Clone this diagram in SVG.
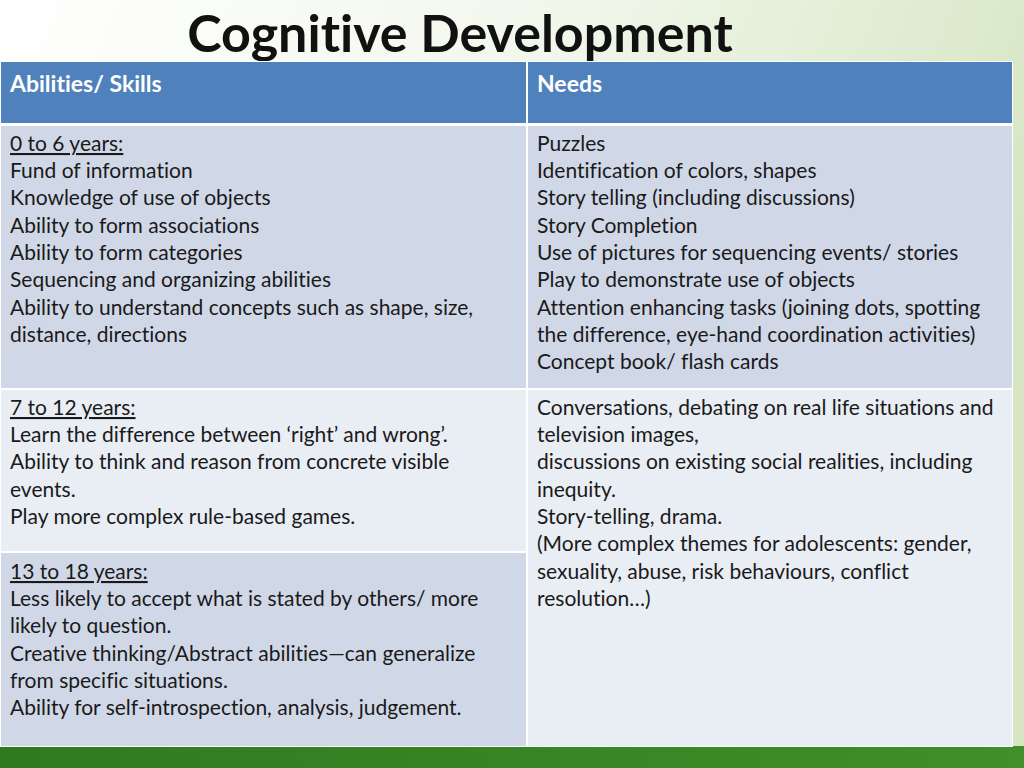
<svg xmlns="http://www.w3.org/2000/svg" width="1024" height="768" viewBox="0 0 1024 768">
<defs>
<linearGradient id="bg" x1="0" y1="0" x2="1" y2="0.3">
<stop offset="0" stop-color="#ffffff"/><stop offset="0.5" stop-color="#f2f7ec"/><stop offset="1" stop-color="#d6e6c4"/>
</linearGradient>
<linearGradient id="band" x1="0" y1="0" x2="1" y2="0">
<stop offset="0" stop-color="#2f7a1f"/><stop offset="1" stop-color="#3f8f2a"/>
</linearGradient>
<style>
text{font-variant-ligatures:none}
.t{font-family:Lato,"Open Sans",sans-serif;font-size:21px;fill:#1a1a1a}
.h{font-family:Lato,"Open Sans",sans-serif;font-size:23px;font-weight:bold;fill:#ffffff}
.u{text-decoration:underline}
</style>
</defs>
<rect width="1024" height="768" fill="url(#bg)"/>
<rect y="746" width="1024" height="22" fill="url(#band)"/>
<text x="460" y="52" text-anchor="middle" font-family="Lato,'Open Sans',sans-serif" font-size="52" font-weight="bold" fill="#111">Cognitive Development</text>
<g id="table">
<rect x="0" y="61" width="1013" height="686" fill="#ffffff"/>
<rect x="1" y="62" width="525" height="61" fill="#4f81bd"/>
<rect x="528" y="62" width="484" height="61" fill="#4f81bd"/>
<rect x="1" y="126" width="525" height="262" fill="#d0d8e8"/>
<rect x="528" y="126" width="484" height="262" fill="#d0d8e8"/>
<rect x="1" y="390" width="525" height="161" fill="#e9edf4"/>
<rect x="1" y="553" width="525" height="193" fill="#d0d8e8"/>
<rect x="528" y="390" width="484" height="356" fill="#e9edf4"/>
</g>
<g id="header">
<text class="h" x="10" y="92">Abilities/ Skills</text>
<text class="h" x="537" y="92">Needs</text>
</g>
<g id="row1-left">
<text class="t u" x="10" y="151">0 to 6 years:</text>
<text class="t" x="10" y="178">Fund of information</text>
<text class="t" x="10" y="205">Knowledge of use of objects</text>
<text class="t" x="10" y="233">Ability to form associations</text>
<text class="t" x="10" y="260">Ability to form categories</text>
<text class="t" x="10" y="287">Sequencing and organizing abilities</text>
<text class="t" x="10" y="315">Ability to understand concepts such as shape, size,</text>
<text class="t" x="10" y="342">distance, directions</text>
</g>
<g id="row1-right">
<text class="t" x="537" y="151">Puzzles</text>
<text class="t" x="537" y="178">Identification of colors, shapes</text>
<text class="t" x="537" y="205">Story telling (including discussions)</text>
<text class="t" x="537" y="233">Story Completion</text>
<text class="t" x="537" y="260">Use of pictures for sequencing events/ stories</text>
<text class="t" x="537" y="287">Play to demonstrate use of objects</text>
<text class="t" x="537" y="315">Attention enhancing tasks (joining dots, spotting</text>
<text class="t" x="537" y="342">the difference, eye-hand coordination activities)</text>
<text class="t" x="537" y="369">Concept book/ flash cards</text>
</g>
<g id="row2-left">
<text class="t u" x="10" y="415">7 to 12 years:</text>
<text class="t" x="10" y="442">Learn the difference between ‘right’ and wrong’.</text>
<text class="t" x="10" y="469">Ability to think and reason from concrete visible</text>
<text class="t" x="10" y="497">events.</text>
<text class="t" x="10" y="524">Play more complex rule-based games.</text>
</g>
<g id="row3-left">
<text class="t u" x="10" y="579">13 to 18 years:</text>
<text class="t" x="10" y="606">Less likely to accept what is stated by others/ more</text>
<text class="t" x="10" y="633">likely to question.</text>
<text class="t" x="10" y="661">Creative thinking/Abstract abilities—can generalize</text>
<text class="t" x="10" y="688">from specific situations.</text>
<text class="t" x="10" y="715">Ability for self-introspection, analysis, judgement.</text>
</g>
<g id="row23-right">
<text class="t" x="537" y="415">Conversations, debating on real life situations and</text>
<text class="t" x="537" y="442">television images,</text>
<text class="t" x="537" y="469">discussions on existing social realities, including</text>
<text class="t" x="537" y="497">inequity.</text>
<text class="t" x="537" y="524">Story-telling, drama.</text>
<text class="t" x="537" y="551">(More complex themes for adolescents: gender,</text>
<text class="t" x="537" y="579">sexuality, abuse, risk behaviours, conflict</text>
<text class="t" x="537" y="606">resolution…)</text>
</g>
</svg>
